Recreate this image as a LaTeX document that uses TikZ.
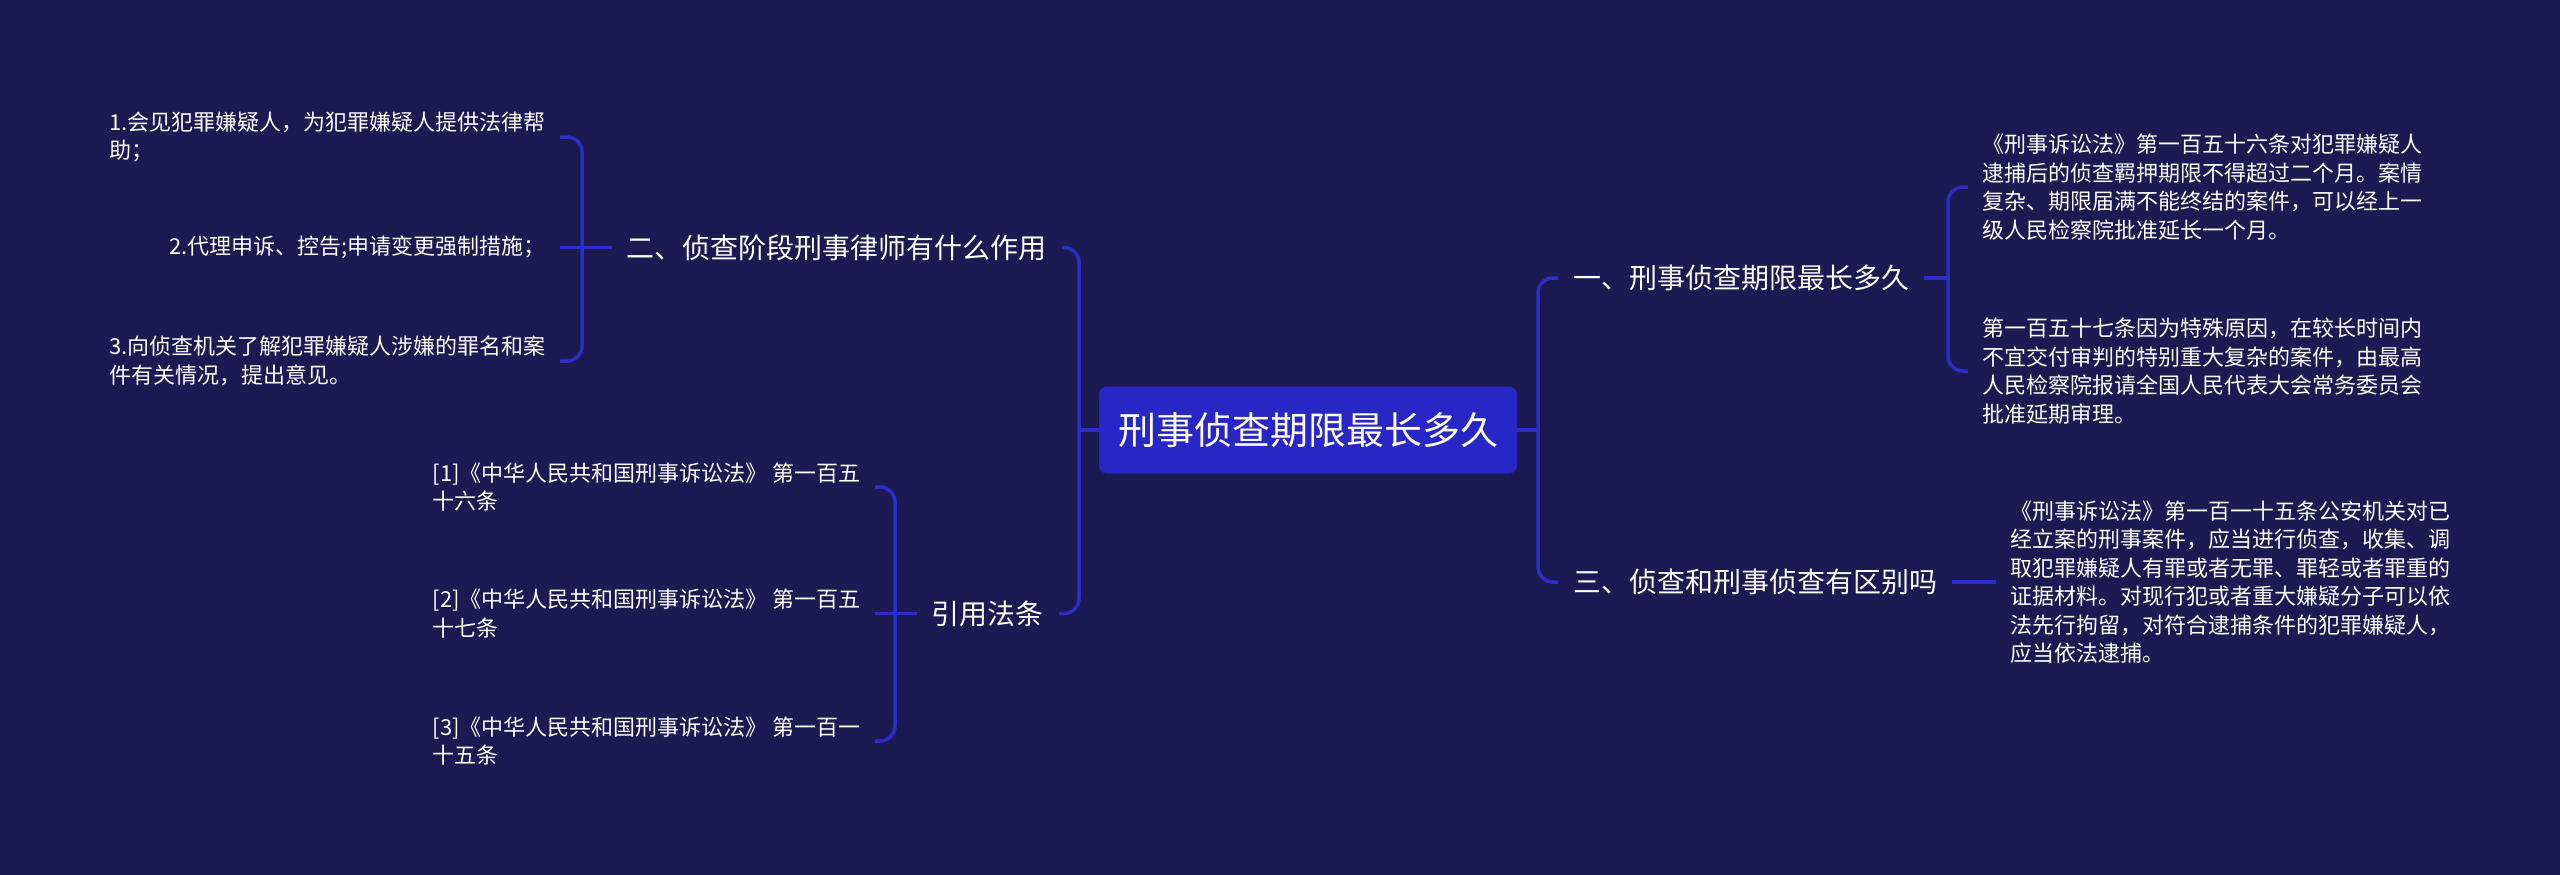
\documentclass[tikz,border=0pt]{standalone}
\usepackage{fontspec}
\setmainfont{Noto Sans CJK SC}
\usetikzlibrary{calc}
\definecolor{bg}{HTML}{1B1A52}
\definecolor{ln}{HTML}{2D2DC8}
\definecolor{cbox}{HTML}{2727C6}
\tikzset{
  conn/.style={draw=ln, line width=3.5pt},
  rc/.style={rounded corners=15pt},
  lvlone/.style={text=white, font=\fontsize{28}{34}\selectfont, inner xsep=15pt, inner ysep=4pt},
  leaf/.style={text=white, font=\fontsize{22}{28.5}\selectfont, align=left, inner xsep=14pt, inner ysep=2pt},
  rootbox/.style={fill=cbox, rounded corners=8pt, text=white, font=\fontsize{38}{44}\selectfont, minimum width=418pt, minimum height=87pt}
}
\begin{document}
\begin{tikzpicture}[x=1pt,y=-1pt]
\useasboundingbox (0,0) rectangle (2560,875);
\fill[bg] (0,0) rectangle (2560,875);

% root
\node[rootbox] (c) at (1308,430) {刑事侦查期限最长多久};

% level one
\node[lvlone, anchor=west] (n1) at (1558,278) {一、刑事侦查期限最长多久};
\node[lvlone, anchor=west] (n3) at (1558,582) {三、侦查和刑事侦查有区别吗};
\node[lvlone, anchor=east] (n2) at (1062,247.5) {二、侦查阶段刑事律师有什么作用};
\node[lvlone, anchor=east] (n4) at (1059,613.5) {引用法条};

% junctions
\coordinate (jl) at (1079,430);
\coordinate (jr) at (1538,430);
\coordinate (j1) at (1948,278);
\coordinate (j2) at (582,247.5);
\coordinate (j4) at (895,613.5);

% right leaves
\node[leaf, anchor=west] (r1) at (1968,187) {《刑事诉讼法》第一百五十六条对犯罪嫌疑人\\逮捕后的侦查羁押期限不得超过二个月。案情\\复杂、期限届满不能终结的案件，可以经上一\\级人民检察院批准延长一个月。};
\node[leaf, anchor=west] (r2) at (1968,371) {第一百五十七条因为特殊原因，在较长时间内\\不宜交付审判的特别重大复杂的案件，由最高\\人民检察院报请全国人民代表大会常务委员会\\批准延期审理。};
\node[leaf, anchor=west] (r3) at (1996,582) {《刑事诉讼法》第一百一十五条公安机关对已\\经立案的刑事案件，应当进行侦查，收集、调\\取犯罪嫌疑人有罪或者无罪、罪轻或者罪重的\\证据材料。对现行犯或者重大嫌疑分子可以依\\法先行拘留，对符合逮捕条件的犯罪嫌疑人，\\应当依法逮捕。};

% left leaves
\node[leaf, anchor=east] (l1) at (560,137) {1.会见犯罪嫌疑人，为犯罪嫌疑人提供法律帮\\助；};
\node[leaf, anchor=east] (l2) at (560,247.5) {2.代理申诉、控告;申请变更强制措施；};
\node[leaf, anchor=east] (l3) at (560,361) {3.向侦查机关了解犯罪嫌疑人涉嫌的罪名和案\\件有关情况，提出意见。};

\node[leaf, anchor=east] (f1) at (875,487) {[1]《中华人民共和国刑事诉讼法》 第一百五\\十六条};
\node[leaf, anchor=east] (f2) at (875,613.5) {[2]《中华人民共和国刑事诉讼法》 第一百五\\十七条};
\node[leaf, anchor=east] (f3) at (875,741) {[3]《中华人民共和国刑事诉讼法》 第一百一\\十五条};

% connectors: root
\draw[conn] (c.west) -- (jl);
\draw[conn] (c.east) -- (jr);
\draw[conn, rc] (n2.east) -| (jl) |- (n4.east);
\draw[conn, rc] (n1.west) -| (jr) |- (n3.west);

% right subtrees
\draw[conn] (n1.east) -- (j1);
\draw[conn, rc] (r1.west) -| (j1) |- (r2.west);
\draw[conn] (n3.east) -- (r3.west);

% left subtrees
\draw[conn] (n2.west) -- (l2.east);
\draw[conn, rc] (l1.east) -| (j2) |- (l3.east);
\draw[conn] (n4.west) -- (f2.east);
\draw[conn, rc] (f1.east) -| (j4) |- (f3.east);
\end{tikzpicture}
\end{document}
